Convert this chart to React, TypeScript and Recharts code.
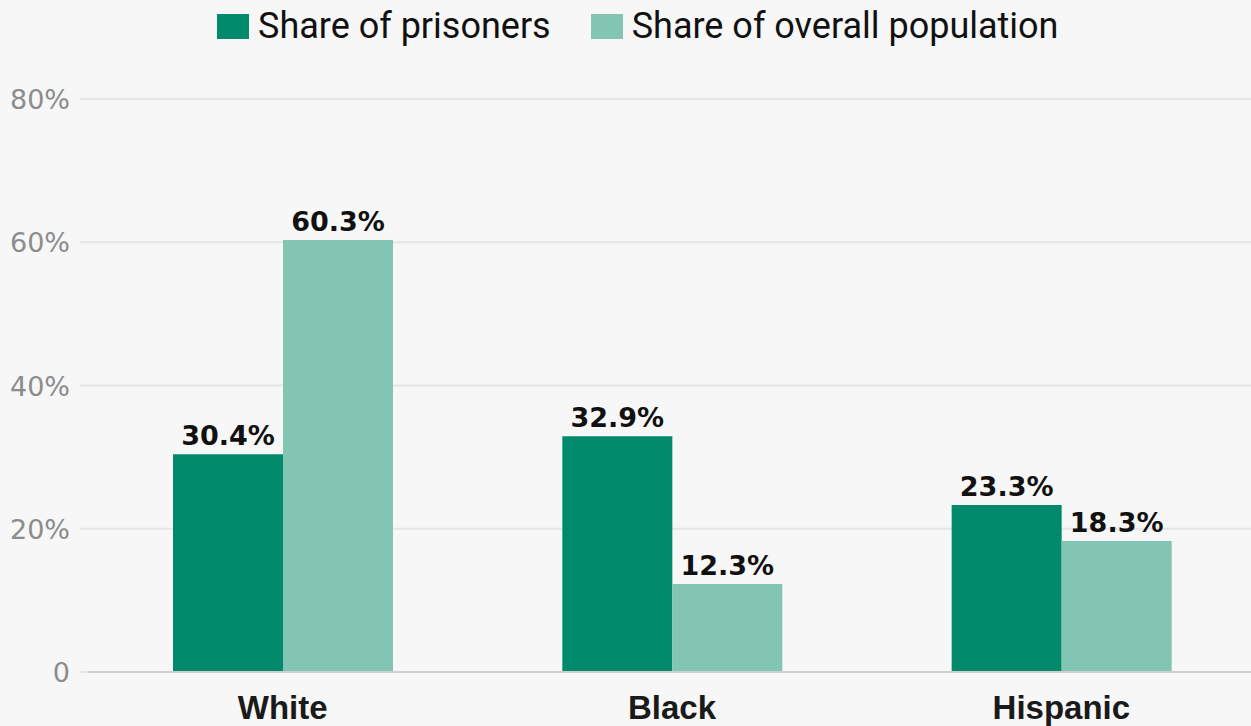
import { BarChart, Bar, XAxis, YAxis, CartesianGrid, Legend, LabelList } from "recharts";

const groups = ["White", "Black", "Hispanic"];
const prisoners = [30.4, 32.9, 23.3];
const population = [60.3, 12.3, 18.3];
const yTicks = [0, 20, 40, 60, 80];

const DARK = "#00896a";
const LIGHT = "#83c5b3";

const data = groups.map((g, i) => ({
  group: g,
  prisoners: prisoners[i],
  population: population[i],
}));

const legendItems = [
  { name: "Share of prisoners", color: DARK },
  { name: "Share of overall population", color: LIGHT },
];

function LegendRow() {
  return (
    <div style={{ display: "flex", justifyContent: "flex-start", paddingLeft: 217 }}>
      {legendItems.map((it, i) => (
        <div
          key={it.name}
          style={{ display: "flex", alignItems: "center", marginLeft: i ? 40 : 0 }}
        >
          <span style={{ width: 32, height: 25, background: it.color, display: "inline-block", marginRight: 9 }} />
          <span style={{ fontFamily: "Roboto, sans-serif", fontSize: 36, color: "#111", lineHeight: "52px" }}>
            {it.name}
          </span>
        </div>
      ))}
    </div>
  );
}

function XTick(props: any) {
  const { x, y, payload } = props;
  return (
    <text x={x} y={y + 39} textAnchor="middle" fill="#1a1a1a" fontFamily="'Liberation Sans', Arial, sans-serif" fontWeight={700} fontSize={33}>
      {payload.value}
    </text>
  );
}

function YTick(props: any) {
  const { x, y, payload } = props;
  return (
    <text x={x - 8} y={y + 10} textAnchor="end" fill="#8c8c8c" fontFamily="'DejaVu Sans', sans-serif" fontSize={27}>
      {payload.value === 0 ? "0" : `${payload.value}%`}
    </text>
  );
}

const labelStyle = { fontFamily: "'DejaVu Sans', sans-serif", fontWeight: 700, fontSize: 27, fill: "#111" };

export default function App() {
  return (
    <div style={{ position: "fixed", left: 0, top: 0, width: 1251, height: 726, overflow: "hidden", background: "#f7f7f7" }}>
      <BarChart
        width={1256}
        height={726}
        data={data}
        margin={{ top: 99, right: 0, bottom: 0, left: 0 }}
        barGap={0}
      >
        <CartesianGrid vertical={false} stroke="#e6e6e6" strokeWidth={2} />
        <XAxis
          dataKey="group"
          height={54}
          tickLine={false}
          axisLine={{ stroke: "#cfcfcf", strokeWidth: 2 }}
          tick={<XTick />}
        />
        <YAxis
          width={88}
          domain={[0, 80]}
          ticks={yTicks}
          axisLine={false}
          tickLine={{ stroke: "#e6e6e6", strokeWidth: 2 }}
          tickSize={8}
          tick={<YTick />}
        />
        <Legend
          verticalAlign="middle"
          align="center"
          wrapperStyle={{ top: 0, left: 0, width: 1251 }}
          content={<LegendRow />}
        />
        <Bar dataKey="prisoners" fill={DARK} barSize={110} isAnimationActive={false}>
          <LabelList dataKey="prisoners" position="top" offset={9} formatter={(v: any) => `${v}%`} style={labelStyle} />
        </Bar>
        <Bar dataKey="population" fill={LIGHT} barSize={110} isAnimationActive={false}>
          <LabelList dataKey="population" position="top" offset={9} formatter={(v: any) => `${v}%`} style={labelStyle} />
        </Bar>
      </BarChart>
    </div>
  );
}
